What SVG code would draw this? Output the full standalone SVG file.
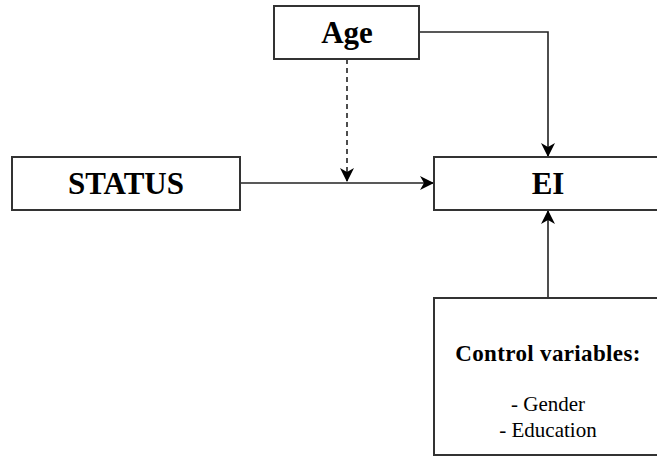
<svg xmlns="http://www.w3.org/2000/svg" width="657" height="457" viewBox="0 0 657 457">
<style>
text{font-family:"Liberation Serif","Times New Roman",Tinos,"DejaVu Serif",serif;fill:#000;text-anchor:middle}
.lbl{font-weight:bold;font-size:31px}
.cv{font-weight:bold;font-size:23px;letter-spacing:0.35px}
.sm{font-size:21px}
.box{fill:#fff;stroke:#333;stroke-width:2}
.c{fill:none;stroke:#222;stroke-width:1.6}
</style>
<defs>
<marker id="ah2" viewBox="0 0 14 14" refX="13" refY="7" markerWidth="14" markerHeight="14" markerUnits="userSpaceOnUse" orient="auto">
<path d="M0,0 L14,7 L0,14 L4,7 Z" fill="#000"/>
</marker>
</defs>
<g id="connectors">
<path class="c" d="M419,32 H548 V156" marker-end="url(#ah2)"/>
<path class="c" d="M240,183 H433" marker-end="url(#ah2)"/>
<path class="c" d="M347,59 V181" stroke-dasharray="5,4" marker-end="url(#ah2)"/>
<path class="c" d="M548,298 V211" marker-end="url(#ah2)"/>
</g>
<g id="age">
<rect class="box" x="274" y="6" width="145" height="53"/>
<text class="lbl" x="347" y="43">Age</text>
</g>
<g id="status">
<rect class="box" x="12" y="157" width="228" height="53"/>
<text class="lbl" x="126" y="194">STATUS</text>
</g>
<g id="ei">
<rect class="box" x="434" y="157" width="228" height="53"/>
<text class="lbl" x="548" y="194">EI</text>
</g>
<g id="control">
<rect class="box" x="434" y="298" width="228" height="157"/>
<text class="cv" x="548" y="361">Control variables:</text>
<text class="sm" x="548" y="411">- Gender</text>
<text class="sm" x="548" y="437">- Education</text>
</g>
</svg>
